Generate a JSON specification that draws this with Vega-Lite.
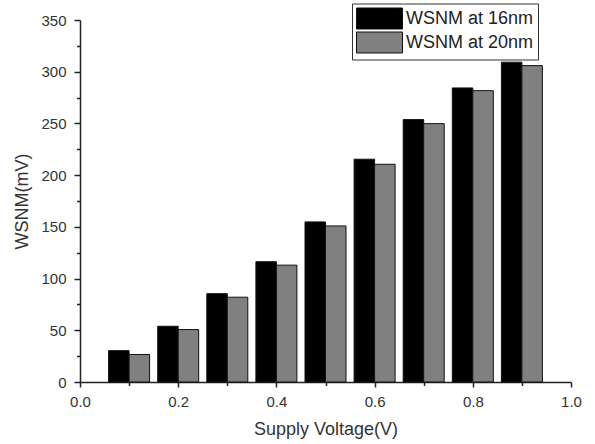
{
  "$schema": "https://vega.github.io/schema/vega-lite/v6.json",
  "width": 491,
  "height": 362,
  "autosize": {"type": "none"},
  "padding": {"left": 80, "top": 20, "right": 24, "bottom": 62},
  "background": "white",
  "config": {
    "view": {"stroke": null},
    "font": "Liberation Sans",
    "axis": {"grid": false, "domainColor": "#222", "tickColor": "#222", "domainWidth": 1.5, "tickWidth": 1.5, "labelColor": "#333", "titleColor": "#333", "labelFont": "Liberation Sans", "titleFont": "Liberation Sans", "titleFontWeight": "normal", "labelFontSize": 15, "titleFontSize": 18, "labelFlush": false}
  },
  "data": {
    "values": [
      {"v": 0.1, "series": "WSNM at 16nm", "value": 30.3},
      {"v": 0.1, "series": "WSNM at 20nm", "value": 26.6},
      {"v": 0.2, "series": "WSNM at 16nm", "value": 53.9},
      {"v": 0.2, "series": "WSNM at 20nm", "value": 50.7},
      {"v": 0.3, "series": "WSNM at 16nm", "value": 85.4},
      {"v": 0.3, "series": "WSNM at 20nm", "value": 82.0},
      {"v": 0.4, "series": "WSNM at 16nm", "value": 116.3},
      {"v": 0.4, "series": "WSNM at 20nm", "value": 113.0},
      {"v": 0.5, "series": "WSNM at 16nm", "value": 154.8},
      {"v": 0.5, "series": "WSNM at 20nm", "value": 150.9},
      {"v": 0.6, "series": "WSNM at 16nm", "value": 215.4},
      {"v": 0.6, "series": "WSNM at 20nm", "value": 210.5},
      {"v": 0.7, "series": "WSNM at 16nm", "value": 253.7},
      {"v": 0.7, "series": "WSNM at 20nm", "value": 249.8},
      {"v": 0.8, "series": "WSNM at 16nm", "value": 284.3},
      {"v": 0.8, "series": "WSNM at 20nm", "value": 281.7},
      {"v": 0.9, "series": "WSNM at 16nm", "value": 309.2},
      {"v": 0.9, "series": "WSNM at 20nm", "value": 305.9}
    ]
  },
  "layer": [
    {
      "transform": [{"filter": "datum.series == 'WSNM at 16nm'"}],
      "mark": {"type": "bar", "width": 20.5, "xOffset": -10.25, "stroke": "#111", "strokeWidth": 1},
      "encoding": {
        "x": {"field": "v", "type": "quantitative", "scale": {"domain": [0, 1], "nice": false, "padding": 0},
          "axis": {"orient": "bottom", "values": [0, 0.2, 0.4, 0.6, 0.8, 1.0], "format": ".1f", "tickSize": 5, "labelPadding": 7, "title": "Supply Voltage(V)", "titlePadding": 11}},
        "y": {"field": "value", "type": "quantitative", "scale": {"domain": [0, 350], "nice": false},
          "axis": {"orient": "left", "values": [0, 50, 100, 150, 200, 250, 300, 350], "tickSize": 6, "labelPadding": 8, "title": "WSNM(mV)", "titlePadding": 9}},
        "color": {"field": "series", "type": "nominal",
          "scale": {"domain": ["WSNM at 16nm", "WSNM at 20nm"], "range": ["#000000", "#808080"]},
          "legend": {"orient": "none", "legendX": 272, "legendY": -16.5, "title": null,
            "symbolType": "M-1,-1H3.38V1H-1Z", "symbolSize": 441,
            "symbolStrokeColor": "#111", "symbolStrokeWidth": 1,
            "labelFontSize": 18, "labelFont": "Liberation Sans", "labelColor": "#222",
            "strokeColor": "#333", "fillColor": "white", "padding": 4, "rowPadding": -7, "labelOffset": 28}}
      }
    },
    {
      "transform": [{"filter": "datum.series == 'WSNM at 20nm'"}],
      "mark": {"type": "bar", "width": 20.5, "xOffset": 10.25, "stroke": "#111", "strokeWidth": 1},
      "encoding": {
        "x": {"field": "v", "type": "quantitative",
          "axis": {"orient": "bottom", "values": [0.1, 0.3, 0.5, 0.7, 0.9], "tickSize": 3.5, "labels": false, "domain": false, "title": null}},
        "y": {"field": "value", "type": "quantitative",
          "axis": {"orient": "left", "values": [25, 75, 125, 175, 225, 275, 325], "tickSize": 3.5, "labels": false, "domain": false, "title": null}},
        "color": {"field": "series", "type": "nominal"}
      }
    }
  ],
  "resolve": {"axis": {"x": "independent", "y": "independent"}}
}
